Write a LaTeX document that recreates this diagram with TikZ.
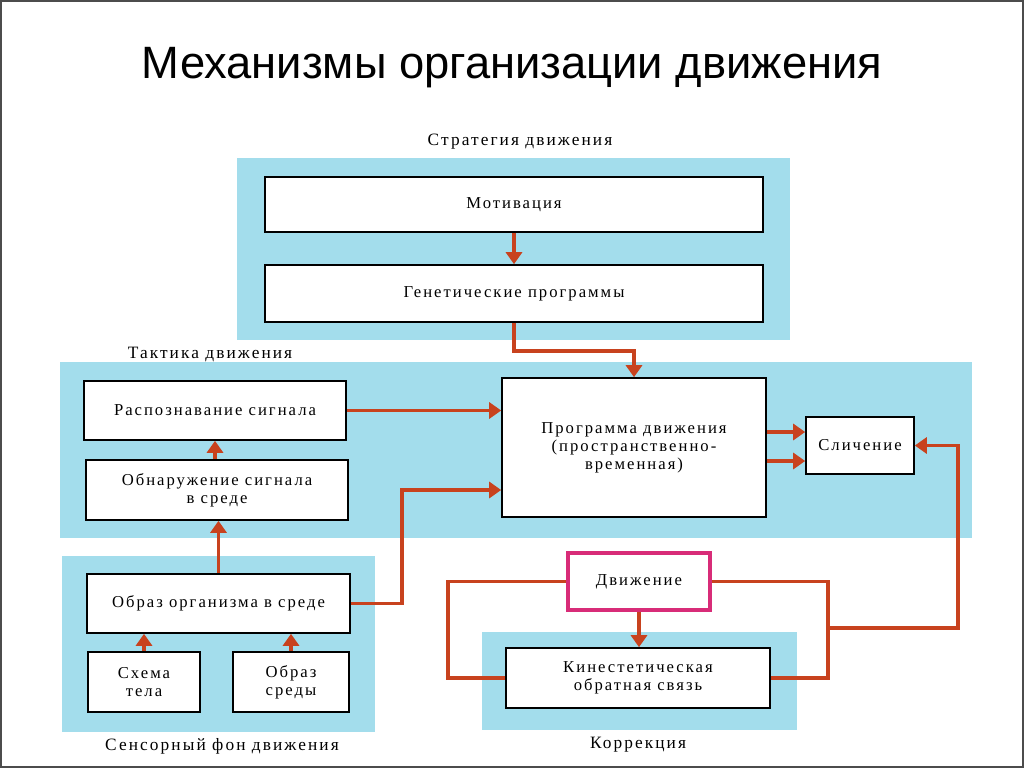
\documentclass[tikz,border=0pt]{standalone}
\usepackage{fontspec}
\setmainfont{Liberation Serif}
\newfontfamily\titlefont{Liberation Sans}
\newfontfamily\boxfont[LetterSpace=12]{Liberation Serif}
\usepackage{tikz}
\usetikzlibrary{arrows.meta}

\definecolor{skyfill}{RGB}{163,221,236}
\definecolor{arrred}{RGB}{200,66,30}
\definecolor{movepink}{RGB}{216,44,120}

\tikzset{
  blk/.style={draw=black, line width=1.2pt, fill=white, align=center,
    font=\boxfont\fontsize{12.5}{13.5}\selectfont, inner sep=2pt},
  lbl/.style={font=\boxfont\fontsize{13}{15}\selectfont},
  arr/.style={draw=arrred, line width=2.6pt, -{Triangle[width=12pt,length=9pt]}},
  wire/.style={draw=arrred, line width=2.6pt},
  sky/.style={fill=skyfill}
}

\begin{document}
\begin{tikzpicture}[x=0.75pt,y=-0.75pt]
\useasboundingbox (0,0) rectangle (1024,768);
\draw[line width=1.5pt, black!70] (1,1) rectangle (1023,767);
%title
\node[font=\titlefont\fontsize{34}{40}\selectfont] (title) at (512,68) {Механизмы организации движения};
%backgrounds
	\fill[sky] (237,158) rectangle (790,340);
	\fill[sky] (60,362) rectangle (972,538);
	\fill[sky] (62,556) rectangle (375,732);
	\fill[sky] (482,632) rectangle (797,730);
	\node[lbl] (strat) at (520,142) {Стратегия движения};
	\node[lbl] (tact) at (210,354) {Тактика движения};
	\node[lbl] (sens) at (222,746) {Сенсорный фон движения};
	\node[lbl] (corr) at (638,745) {Коррекция};
%boxes
	\node[blk, minimum width=373.5pt, minimum height=41.25pt] (motiv) at (514,204.5) {Мотивация};
	\node[blk, minimum width=373.5pt, minimum height=42.75pt] (genet) at (514,293.5) {Генетические программы};
	\node[blk, minimum width=196.5pt, minimum height=44.25pt] (recog) at (215,410.5) {Распознавание сигнала};
	\node[blk, minimum width=196.5pt, minimum height=45pt] (detect) at (217,490) {Обнаружение сигнала\\в среде};
	\node[blk, minimum width=198pt, minimum height=104.25pt] (prog) at (634,447.5) {Программа движения\\(пространственно-\\временная)};
	\node[blk, minimum width=81pt, minimum height=42.75pt] (compare) at (860,445.5) {Сличение};
	\node[blk, minimum width=197.25pt, minimum height=44.25pt] (image) at (218.5,603.5) {Образ организма в среде};
	\node[blk, minimum width=84pt, minimum height=45pt] (body) at (144,682) {Схема\\тела};
	\node[blk, minimum width=87pt, minimum height=45pt] (envir) at (291,682) {Образ\\среды};
	\node[blk, draw=movepink, line width=3pt, minimum width=106.5pt, minimum height=42.75pt] (move) at (639,581.5) {Движение};
	\node[blk, minimum width=198pt, minimum height=45pt] (kin) at (638,678) {Кинестетическая\\обратная связь};
%arrows
	\draw[arr] (motiv.south) -- (genet.north);
	\draw[arr] (genet.south) -- ++(0,28) -| (prog.north);
	\draw[arr] (recog.south |- detect.north) -- (recog.south);
	\draw[arr] (image.north) -- (image.north |- detect.south);
	\draw[arr] (recog.east) -- (recog.east -| prog.west);
	\draw[arr] (image.east) -| (402,490) -- (prog.west |- 0,490);
	\draw[arr] (prog.east |- 0,432) -- (compare.west |- 0,432);
	\draw[arr] (prog.east |- 0,461) -- (compare.west |- 0,461);
	\draw[arr] (body.north) -- (body.north |- image.south);
	\draw[arr] (envir.north) -- (envir.north |- image.south);
	\draw[arr] (move.south) -- (move.south |- kin.north);
	\draw[wire] (move.west) -| (448,678) -- (kin.west);
	\draw[wire] (move.east) -| (828,678) -- (kin.east);
	\coordinate (fb) at (828,628);
	\draw[arr] (fb) -| (958,445.5) -- (compare.east);
\end{tikzpicture}
\end{document}
